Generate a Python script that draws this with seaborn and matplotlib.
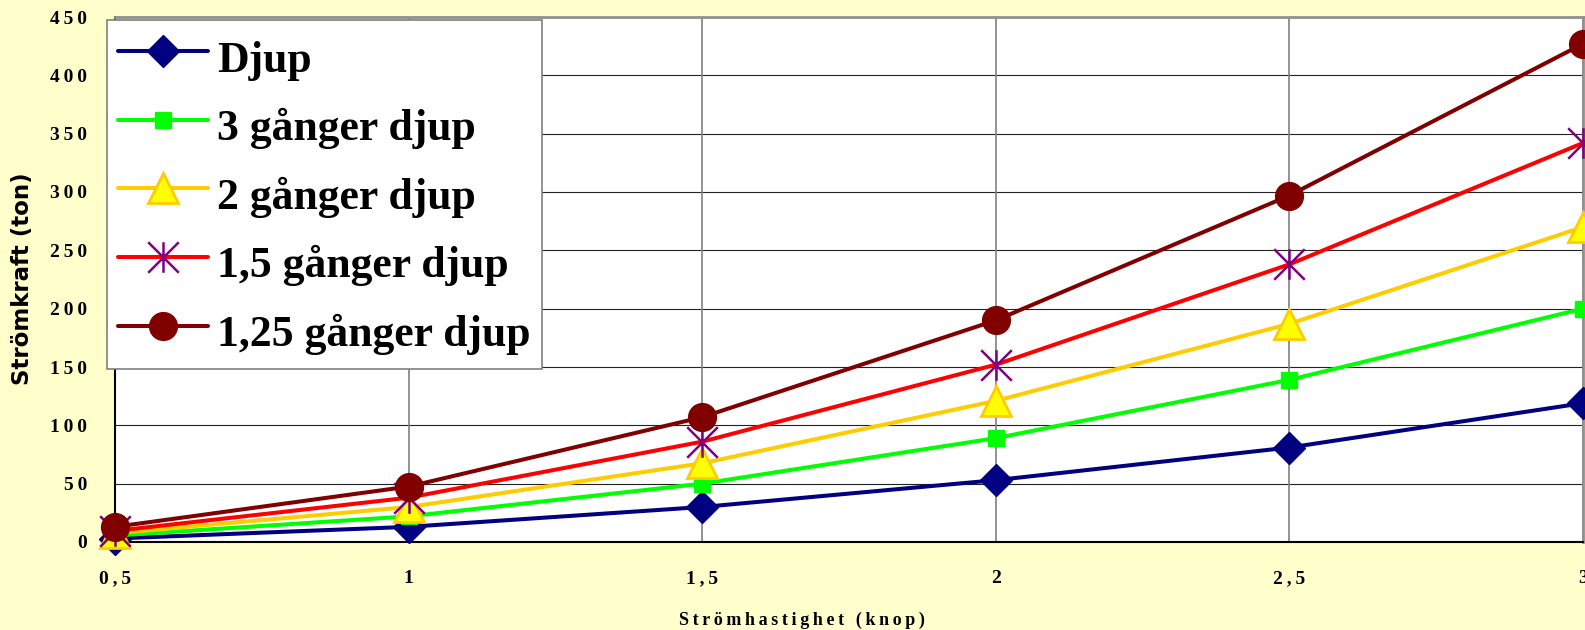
import matplotlib
matplotlib.use("Agg")
import matplotlib.pyplot as plt
from matplotlib.path import Path
import seaborn as sns
import pandas as pd

# Current speed (knots) and resulting current force (tons) per depth ratio
speed = [0.5, 1.0, 1.5, 2.0, 2.5, 3.0]
djup = [3, 13, 30, 53, 81, 119]
djup_3 = [5.5, 22, 50, 89, 139, 200]
djup_2 = [7.5, 30, 67.5, 121, 187, 270]
djup_15 = [9.5, 38, 86, 152, 238, 342]
djup_125 = [13, 47.5, 107, 190, 297, 427]

series_names = ["Djup", "3 gånger djup", "2 gånger djup",
                "1,5 gånger djup", "1,25 gånger djup"]
series_values = [djup, djup_3, djup_2, djup_15, djup_125]

x_ticks = [0.5, 1.0, 1.5, 2.0, 2.5, 3.0]
x_tick_labels = ["0,5", "1", "1,5", "2", "2,5", "3"]
y_ticks = [0, 50, 100, 150, 200, 250, 300, 350, 400, 450]
y_tick_labels = ["0", "50", "100", "150", "200", "250", "300", "350", "400", "450"]

x_title = "Strömhastighet (knop)"
y_title = "Strömkraft (ton)"

THIN = "\u2009"


def spaced(s):
    return THIN.join(s)


# six-armed asterisk: vertical bar plus an X
asterisk = Path([(0, -1), (0, 1), (-1, -1), (1, 1), (-1, 1), (1, -1)],
                [Path.MOVETO, Path.LINETO, Path.MOVETO, Path.LINETO,
                 Path.MOVETO, Path.LINETO])

styles = [
    dict(color="#000080", marker="D", markersize=16, markerfacecolor="#000080",
         markeredgecolor="#000080", markeredgewidth=1),
    dict(color="#00FF00", marker="s", markersize=11, markerfacecolor="#00FF00",
         markeredgecolor="#00FF00", markeredgewidth=1),
    dict(color="#FFCC00", marker="^", markersize=21, markerfacecolor="#FFFF00",
         markeredgecolor="#FFCC00", markeredgewidth=2),
    dict(color="#FF0000", marker=asterisk, markersize=22, markerfacecolor="none",
         markeredgecolor="#800080", markeredgewidth=1.8),
    dict(color="#800000", marker="o", markersize=20, markerfacecolor="#800000",
         markeredgecolor="#800000", markeredgewidth=1),
]

sns.set_theme(style="white")
plt.rcParams["font.family"] = ["Liberation Serif", "DejaVu Serif"]
plt.rcParams["text.color"] = "black"
plt.rcParams["axes.labelcolor"] = "black"
plt.rcParams["xtick.color"] = "black"
plt.rcParams["ytick.color"] = "black"

bg = "#FFFFCC"
fig = plt.figure(figsize=(15.85, 6.30), dpi=100, facecolor=bg)
ax = fig.add_axes([115 / 1585, 1 - 542 / 630, (1583 - 115) / 1585, (542 - 17) / 630])
ax.set_facecolor("white")

for name, vals, st in zip(series_names, series_values, styles):
    df = pd.DataFrame({"speed": speed, "force": vals})
    sns.lineplot(data=df, x="speed", y="force", ax=ax, label=name,
                 linewidth=2.9, clip_on=False, solid_capstyle="round",
                 zorder=3, **st)

ax.set_xlim(0.5, 3.0)
ax.set_ylim(0, 450)
ax.set_xticks(x_ticks)
ax.set_xticklabels([spaced(t) for t in x_tick_labels])
ax.set_yticks(y_ticks)
ax.set_yticklabels([spaced(t) for t in y_tick_labels])
ax.set_xlabel("")
ax.set_ylabel("")

ax.tick_params(axis="both", which="major", direction="out", colors="black",
               labelsize=14, width=1.2)
ax.tick_params(axis="y", length=6, pad=14)
ax.tick_params(axis="x", length=7, pad=13)
for lab in ax.get_xticklabels() + ax.get_yticklabels():
    lab.set_fontweight("bold")

# gridlines: dark horizontal, grey vertical
for y in y_ticks[1:]:
    ax.axhline(y, color="#222222", linewidth=0.8, zorder=1)
for x in x_ticks[1:]:
    ax.axvline(x, color="#808080", linewidth=1.2, zorder=1)

for side in ("left", "bottom"):
    ax.spines[side].set_color("black")
    ax.spines[side].set_linewidth(1.5)
for side in ("top", "right"):
    ax.spines[side].set_color("#909090")
    ax.spines[side].set_linewidth(2)
for sp in ax.spines.values():
    sp.set_visible(True)

leg = ax.legend(loc="upper left", bbox_to_anchor=(107 / 1585, 1 - 20 / 630),
                bbox_transform=fig.transFigure, prop=dict(family="Liberation Serif",
                                                          weight="bold", size=31.5),
                frameon=True, fancybox=False, framealpha=1, edgecolor="#808080",
                facecolor="white", borderpad=0.25, labelspacing=0.36,
                handleheight=1.48, handlelength=2.05, handletextpad=0.22,
                borderaxespad=0)
leg.get_frame().set_linewidth(1.2)
leg.set_zorder(5)
for t in leg.get_texts():
    t.set_color("black")

fig.text(802 / 1585, 1 - 620 / 630, spaced(x_title), ha="center", va="center",
         fontsize=13, fontweight="bold", family="Liberation Serif")
fig.text(23 / 1585, 1 - 279 / 630, y_title, ha="center", va="center",
         rotation=90, fontsize=16.5, fontweight="bold", family="DejaVu Sans")

fig.savefig("out.png", dpi=100, facecolor=bg)
